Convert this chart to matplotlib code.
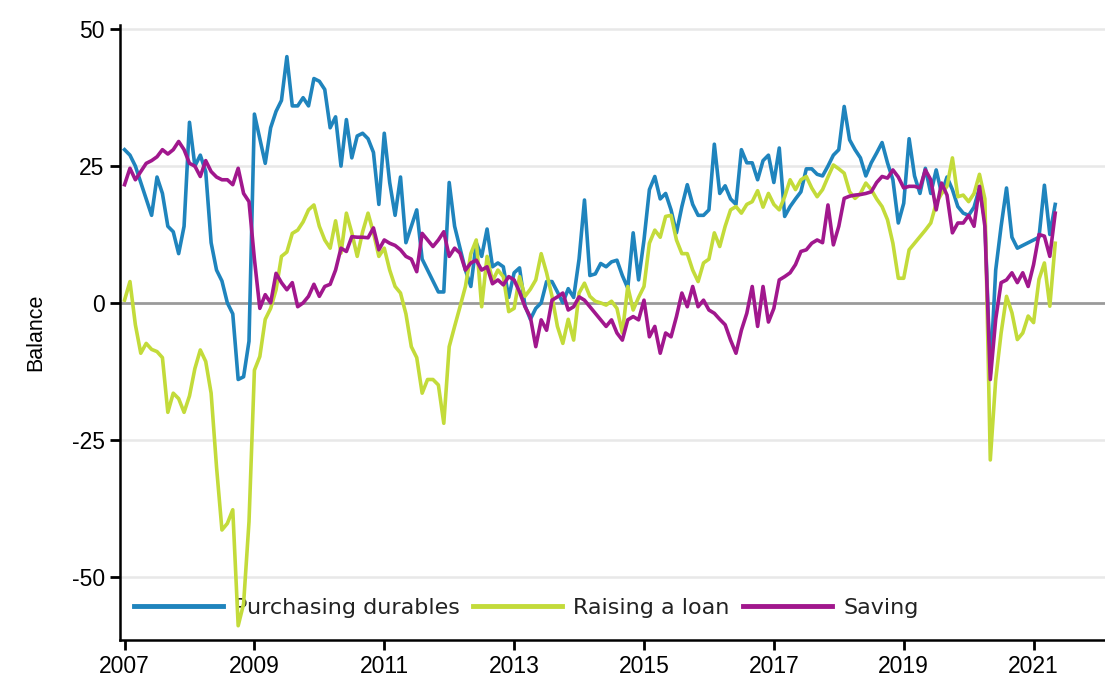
import numpy as np
import matplotlib
matplotlib.use("Agg")
import matplotlib.pyplot as plt

plt.rcParams["font.family"] = ["Liberation Sans", "DejaVu Sans"]
plt.rcParams["axes.unicode_minus"] = False

# monthly balances, Jan 2007 - May 2021
durables = [
    28, 27, 25, 22, 19, 16, 23, 20, 14, 13, 9, 14,                  # 2007
    33, 25, 27, 24, 11, 6, 4, 0, -2, -14, -13.5, -7,                # 2008
    34.5, 30, 25.5, 32, 35, 37, 45, 36, 36, 37.5, 36, 41,           # 2009
    40.5, 39, 32, 34, 25, 33.5, 26.5, 30.5, 31, 30, 27.5, 18,       # 2010
    31, 22, 16, 23, 11, 14, 17, 8, 6, 4, 2, 2,                      # 2011
    22, 14, 10, 6, 3, 11, 8.5, 13.5, 6.6, 7.3, 6.6, 1,              # 2012
    5.5, 6.4, -0.5, -3, -1, 0, 3.9, 3.9, 2, 0, 2.6, 1,              # 2013
    8, 18.8, 5, 5.3, 7.2, 6.6, 7.5, 7.8, 5, 2.7, 12.8, 4.2,         # 2014
    11.5, 20.7, 23.1, 19, 20, 17, 12.8, 17.6, 21.6, 18, 16, 16,     # 2015
    17, 29, 20, 21.4, 19, 18, 28, 25.6, 25.6, 22.5, 26, 27,         # 2016
    22, 28.3, 15.8, 17.6, 19, 20.3, 24.5, 24.5, 23.5, 23.2, 25, 27, # 2017
    28, 35.9, 29.8, 28, 26.5, 23.2, 25.6, 27.4, 29.3, 25.6, 22.5, 14.6,  # 2018
    18.2, 30, 23.2, 20, 24.6, 20, 24.3, 20, 23, 20.7, 17.6, 16.4,   # 2019
    16, 17.5, 21, 15, -13, 6, 14, 21, 12, 10, 10.5, 11,             # 2020
    11.5, 12, 21.5, 12.5, 18,                                       # 2021
]
loan = [
    0.5, 3.9, -4, -9.2, -7.4, -8.5, -8.9, -10, -20, -16.5, -17.5, -20,
    -17, -12, -8.6, -10.7, -16.5, -30, -41.5, -40.3, -37.8, -59, -55, -40,
    -12.3, -9.8, -3, -1, 2.4, 8.5, 9.3, 12.7, 13.3, 14.8, 17, 17.9,
    14, 11.5, 10, 15, 9.1, 16.4, 12.8, 8.5, 13, 16.4, 12.8, 8.5,
    10, 6, 3, 1.8, -2, -8, -10, -16.5, -14, -14, -15, -22,
    -8, -4.3, -0.7, 3, 9, 11.5, -0.7, 8.5, 4, 6, 4.8, -1.6,
    -1, 4.8, 1.2, 2.5, 4.2, 9, 5.5, 1.2, -4.3, -7.4, -3, -6.8,
    1.8, 3.6, 1.2, 0.3, 0, -0.4, 0.3, -1, -5.5, 3, -1.3, 1,
    3, 10.9, 13.3, 12, 15.8, 16, 11.5, 9, 9, 6, 3.9, 7.3,
    8, 12.8, 10.3, 14, 17, 17.6, 16.4, 18, 18.5, 20.5, 17.5, 20,
    18, 17, 19.4, 22.5, 20.7, 22.5, 23.1, 21, 19.4, 20.7, 23, 25.2,
    24.5, 23.7, 20.3, 19.1, 20, 21.9, 20.7, 19, 17.6, 15.2, 10.9, 4.5,
    4.5, 9.7, 10.9, 12.1, 13.3, 14.6, 18.2, 20, 21.3, 26.5, 19.4, 19.7,
    18.5, 20, 23.5, 19, -28.7, -14, -5.5, 1.2, -1.8, -6.7, -5.5, -2.4,
    -3.6, 4.3, 7.3, -0.6, 10.9,
]
saving = [
    21.6, 24.6, 22.5, 24, 25.5, 26, 26.7, 28, 27.2, 28, 29.5, 28,
    25.5, 25, 23.1, 26, 24, 23, 22.5, 22.5, 21.6, 24.6, 20, 18.5,
    8, -1, 1.5, 0, 5.4, 3.7, 2.4, 3.7, -0.7, 0, 1.2, 3.4,
    1.2, 3, 3.4, 6, 10, 9.4, 12.1, 12, 12, 11.9, 13.7, 9.7,
    11.5, 10.9, 10.5, 9.7, 8.5, 8, 5.7, 12.7, 11.5, 10.3, 11.5, 13,
    8.5, 10, 9.1, 6, 7.3, 7.8, 6, 6.6, 3.5, 4.2, 3.3, 4.8,
    4.2, 2, -0.7, -2.6, -8, -3.1, -5, 0.5, 1.1, 1.8, -1.3, -0.7,
    1.1, 0.5, -0.7, -1.9, -3.1, -4.3, -3.1, -5.5, -6.8, -3.1, -2.5, -3.1,
    0.5, -6.2, -4.3, -9.2, -5.5, -6.2, -2.5, 1.8, -0.7, 3, -0.7, 0.5,
    -1.3, -1.9, -3, -4, -6.8, -9.2, -5, -1.9, 3, -4.3, 3, -3.5,
    -1, 4.2, 4.8, 5.5, 7, 9.4, 9.7, 10.9, 11.5, 11, 17.9, 10.6,
    14, 19.1, 19.5, 19.7, 19.8, 20, 20.3, 22, 23.1, 22.8, 24.3, 23,
    21, 21.3, 21.3, 21, 24.3, 22.5, 17, 21.9, 19.7, 12.8, 14.6, 14.6,
    16, 14, 21.3, 14, -14, -3, 3.7, 4.2, 5.5, 3.7, 5.5, 3,
    7, 12.5, 12.2, 8.5, 16.4,
]
labels = ["Purchasing durables", "Raising a loan", "Saving"]
colors = ["#1f84bd", "#c3db3a", "#a1178d"]
year_ticks = list(range(2007, 2022, 2))

t = 2007 + np.arange(len(durables)) / 12

fig = plt.figure(figsize=(11.05, 6.88), dpi=100)
ax = fig.add_axes([0.1086, 0.0698, 0.8914, 0.894])

for y in [50, 25, -25, -50]:
    ax.axhline(y, color="#e8e8e8", lw=1.8, zorder=0)
ax.axhline(0, color="#9a9a9a", lw=2, zorder=1)

for series, lab, c in zip([durables, loan, saving], labels, colors):
    ax.plot(t, series, color=c, lw=2.6, label=lab, zorder=3)

ax.set_xlim(2006.93, 2022.1)
ax.set_ylim(-61.6, 50.8)
ax.set_yticks([50, 25, 0, -25, -50])
ax.set_xticks(year_ticks)
ax.set_xticklabels([str(y) for y in year_ticks])

for s in ["top", "right"]:
    ax.spines[s].set_visible(False)
for s in ["left", "bottom"]:
    ax.spines[s].set_linewidth(1.8)
ax.tick_params(axis="both", length=7, width=2, labelsize=16.5, pad=4)

ax.set_ylabel("Balance", fontsize=15.5, labelpad=18)

leg = ax.legend(loc="lower left", bbox_to_anchor=(-0.006, 0.004), ncol=3, frameon=False,
                handlelength=4.0, handletextpad=0.5, columnspacing=0.6,
                prop={"family": ["DejaVu Sans"], "size": 16})
for line in leg.get_lines():
    line.set_linewidth(3.5)
for txt in leg.get_texts():
    txt.set_color("#222222")
leg.set_zorder(1)

fig.savefig("out.png", dpi=100)
